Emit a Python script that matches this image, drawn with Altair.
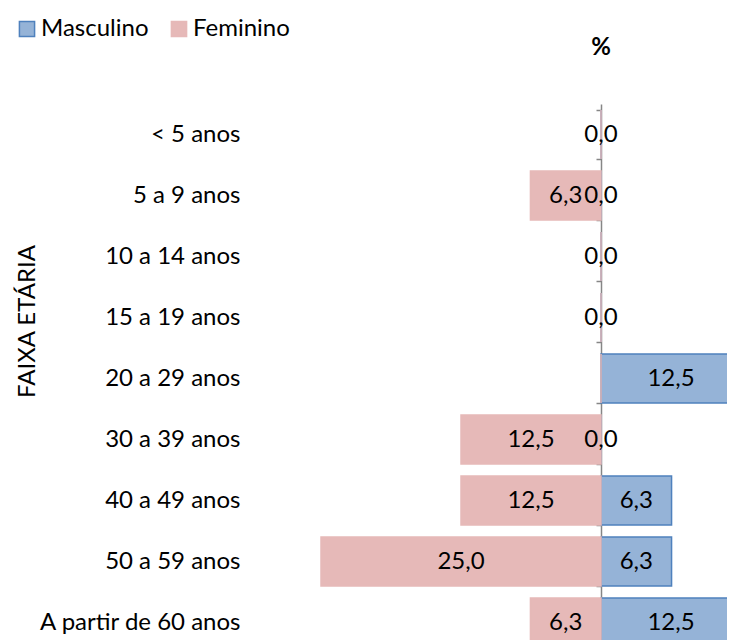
import altair as alt
import pandas as pd

categories = ["< 5 anos", "5 a 9 anos", "10 a 14 anos", "15 a 19 anos", "20 a 29 anos",
              "30 a 39 anos", "40 a 49 anos", "50 a 59 anos", "A partir de 60 anos"]
masculino = [0.0, 0.0, 0.0, 0.0, 12.5, 0.0, 6.3, 6.3, 12.5]
feminino = [0.0, 6.3, 0.0, 0.0, 0.0, 12.5, 12.5, 25.0, 6.3]

rows = []
for c, m, f in zip(categories, masculino, feminino):
    rows.append({"cat": c, "sexo": "Masculino", "x0": 0.0, "x1": m, "mid": m / 2,
                 "label": f"{m:.1f}".replace(".", ","), "show": True})
    rows.append({"cat": c, "sexo": "Feminino", "x0": -f, "x1": 0.0, "mid": -f / 2,
                 "label": f"{f:.1f}".replace(".", ","), "show": f > 0})
df = pd.DataFrame(rows)

FONT = "Lato"
FS = 24

xscale = alt.Scale(domain=[-31.34, 11.25], nice=False, zero=False)
yscale = alt.Scale(domain=categories, range=[0, 549], paddingInner=0.2, paddingOuter=0.1)
color_scale = alt.Scale(domain=["Masculino", "Feminino"], range=["#95B3D7", "#E6B9B8"])
stroke_scale = alt.Scale(domain=["Masculino", "Feminino"], range=["#4F81BD", "#E6B9B8"])

base = alt.Chart(df)

bars = base.mark_bar(clip=True, strokeWidth=1.5).encode(
    x=alt.X("x0:Q", scale=xscale, axis=None),
    x2="x1:Q",
    y=alt.Y("cat:N", scale=yscale, sort=categories,
            axis=alt.Axis(orient="left", title="FAIXA ETÁRIA", domain=False, ticks=False,
                          labelPadding=10, labelFontSize=FS, labelFont=FONT, labelColor="#000000",
                          titleFont=FONT, titleFontSize=FS, titleFontWeight="normal", titleColor="#000000",
                          titleAngle=270, titleAlign="center", titleBaseline="middle",
                          titleX=-223, titleY=217, labelLimit=400)),
    fill=alt.Fill("sexo:N", scale=color_scale,
                  legend=alt.Legend(title=None, orient="none", direction="horizontal",
                                    legendX=-235, legendY=-87, symbolType="square", symbolSize=230,
                                    symbolStrokeWidth=1.5, labelFontSize=FS, labelFont=FONT,
                                    labelColor="#000000", columnPadding=18, labelOffset=2)),
    stroke=alt.Stroke("sexo:N", scale=stroke_scale, legend=None),
)

axis_line = base.mark_bar(opacity=0).encode(
    x=alt.X("x0:Q", scale=xscale, axis=None),
    y=alt.Y("cat:N", scale=yscale, sort=categories,
            axis=alt.Axis(orient="left", title=None, labels=False, domain=True, ticks=True,
                          domainColor="#868686", domainWidth=1.5, tickColor="#868686",
                          tickWidth=1.5, tickSize=5, tickBand="extent", offset=-351, grid=False)),
)

labels = base.transform_filter("datum.show").mark_text(
    font=FONT, fontSize=FS, color="#000000", baseline="middle", align="center"
).encode(
    x=alt.X("mid:Q", scale=xscale, axis=None),
    y=alt.Y("cat:N", scale=yscale, sort=categories, axis=None),
    text="label:N",
)

pct = alt.Chart(pd.DataFrame({"t": ["%"]})).mark_text(
    font=FONT, fontSize=FS, fontWeight="bold", color="#000000", baseline="middle", align="center"
).encode(
    x=alt.datum(0, scale=xscale),
    y=alt.value(-56),
    text="t:N",
)

chart = alt.layer(bars, axis_line, labels, pct).resolve_axis(y="independent").properties(
    width=477, height=536,
    autosize=alt.AutoSizeParams(type="none"),
    padding={"left": 242, "top": 96, "right": 0, "bottom": 0},
).configure_view(stroke=None)

chart.save("out.html", embed_options={"renderer": "svg", "actions": False})
